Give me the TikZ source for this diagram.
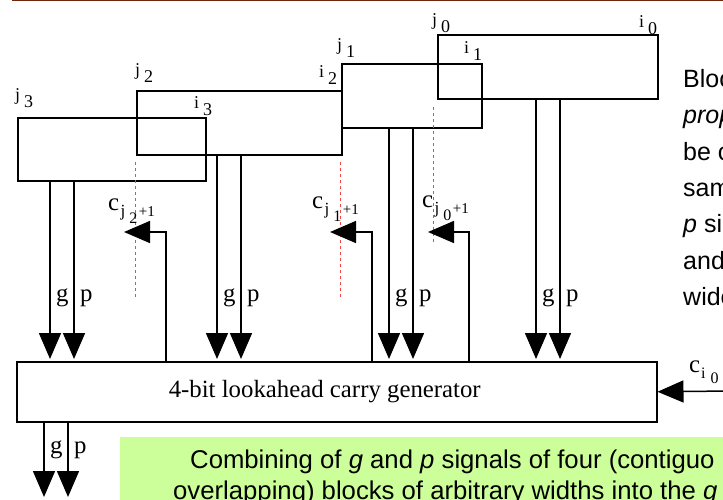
\documentclass[tikz,border=0pt]{standalone}
\usepackage{fontspec}
\setmainfont{Liberation Serif}
\newfontfamily\slidefont{Liberation Sans}
\usetikzlibrary{arrows.meta}
\definecolor{slidebrown}{RGB}{112,38,8}
\definecolor{notegreen}{RGB}{204,255,153}
\definecolor{guidered}{RGB}{240,70,70}
% block end labels and carry labels
\newcommand{\blkend}[2]{#1\kern4pt\raisebox{-7.5pt}{#2}}
\newcommand{\cblk}[1]{c\kern1.5pt\raisebox{-6pt}{\fontsize{17}{17}\selectfont j\kern4pt\raisebox{-7pt}{\fontsize{16}{16}\selectfont #1}\kern1.5pt{\fontsize{15}{15}\selectfont +1}}}
\newcommand{\cin}{c\kern1pt\raisebox{-6pt}{\fontsize{16}{16}\selectfont i\kern5pt\raisebox{-5pt}{0}}}

\begin{document}
\begin{tikzpicture}[x=1pt,y=-1pt,
  blk/.style={draw,line width=1.5pt,inner sep=0pt,anchor=north west},
  sig/.style={line width=1.5pt,-{Triangle[length=26pt,width=22pt]}},
  guide/.style={guidered,line width=1.2pt,dash pattern=on 3pt off 3pt},
  endlbl/.style={inner sep=0pt,anchor=base west,font=\fontsize{18}{18}\selectfont},
  sglbl/.style={inner sep=0pt,anchor=base west,font=\fontsize{24.8}{30}\selectfont},
  txt/.style={inner sep=0pt,anchor=base west,font=\slidefont\fontsize{25}{30}\selectfont}]
\clip (0,0) rectangle (723,499);
% Slide rule and note box
\draw[slidebrown,line width=1.4pt] (12,0.7) -- (723,0.7);
\fill[notegreen] (120,437) rectangle (730,505);
% Four blocks
\node[blk,minimum width=188pt,minimum height=63pt] (b3) at (17,117) {};
\node[blk,minimum width=205pt,minimum height=64pt] (b2) at (136,90) {};
\node[blk,minimum width=140pt,minimum height=64pt] (b1) at (341,63) {};
\node[blk,minimum width=220pt,minimum height=64pt] (b0) at (437,34) {};
\node[endlbl] (j3) at (15,100) {\blkend{j}{3}};
\node[endlbl] (i3) at (194,108) {\blkend{i}{3}};
\node[endlbl] (j2) at (135,75) {\blkend{j}{2}};
\node[endlbl] (i2) at (319,77) {\blkend{i}{2}};
\node[endlbl] (j1) at (337,50) {\blkend{j}{1}};
\node[endlbl] (i1) at (464,53) {\blkend{i}{1}};
\node[endlbl] (j0) at (432,25) {\blkend{j}{0}};
\node[endlbl] (i0) at (639,27) {\blkend{i}{0}};
% Carry generator
\node[blk,minimum width=640pt,minimum height=60pt] (lacg) at (16,361)
  {\fontsize{24.8}{30}\selectfont 4-bit lookahead carry generator\hspace*{24pt}};
% Block boundaries
\draw[guide] (135.5,162) -- (135.5,297);
\draw[guide] (340.5,162) -- (340.5,297);
\draw[guide] (433.5,107) -- (433.5,242);
% g and p signals into the generator
\foreach \blkname/\gx in {b3/50,b2/217,b1/389,b0/536}{
  \draw[sig,shorten >=2pt] (\blkname.south -| \gx,0) -- (lacg.north -| \gx,0);
  \draw[sig,shorten >=2pt] (\blkname.south -| \gx+24,0) -- (lacg.north -| \gx+24,0);
  \node[sglbl] at (\gx+6,301) {g};
  \node[sglbl] at (\gx+30,301) {p};
}
% Carries out of the generator
\coordinate (cj2) at (124,232);
\coordinate (cj1) at (330,232);
\coordinate (cj0) at (428,232);
\draw[sig] (lacg.north -| 166,0) |- (cj2);
\draw[sig] (lacg.north -| 372,0) |- (cj1);
\draw[sig] (lacg.north -| 469,0) |- (cj0);
\node[sglbl] (lcj2) at (108,210) {\cblk{2}};
\node[sglbl] (lcj1) at (312,208) {\cblk{1}};
\node[sglbl] (lcj0) at (422,207) {\cblk{0}};
% Carry in
\coordinate (cin) at (730,391);
\draw[sig] (cin) -- (lacg.east);
\node[sglbl] (lcin) at (689,372) {\cin};
% Combined g and p
\coordinate (gout) at (44,497);
\coordinate (pout) at (68,497);
\draw[sig] (lacg.south -| gout) -- (gout);
\draw[sig] (lacg.south -| pout) -- (pout);
\node[sglbl] at (50,453) {g};
\node[sglbl] at (74,453) {p};
% Slide text
\node[txt,font=\slidefont\fontsize{25.7}{30}\selectfont] (n1) at (190,468) {Combining of \textit{g} and \textit{p} signals of four (contiguo};
\node[txt,font=\slidefont\fontsize{25.7}{30}\selectfont] (n2) at (173,499) {overlapping) blocks of arbitrary widths into the \textit{g}};
\node[txt] (r1) at (683,87) {Bloc};
\node[txt] (r2) at (683,123) {\textit{prop}};
\node[txt] (r3) at (683,160) {be c};
\node[txt] (r4) at (683,196) {sam};
\node[txt] (r5) at (683,232) {\textit{p} si};
\node[txt] (r6) at (683,269) {and};
\node[txt] (r7) at (683,305) {wide};
\end{tikzpicture}
\end{document}
